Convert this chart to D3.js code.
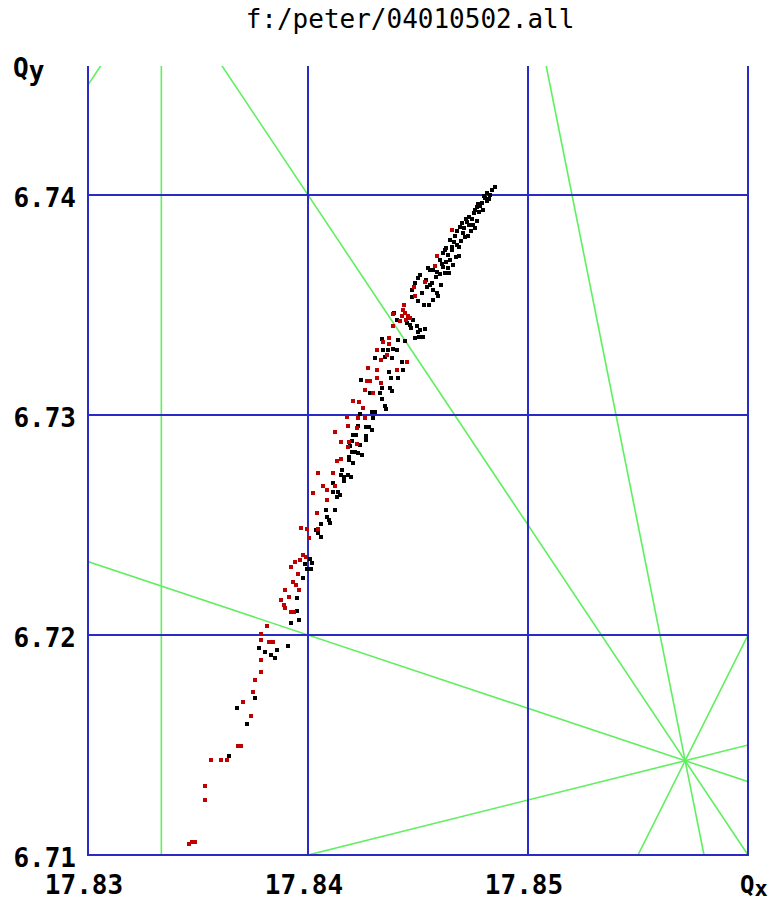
<!DOCTYPE html>
<html><head><meta charset="utf-8">
<script src="https://cdn.jsdelivr.net/npm/d3@7/dist/d3.min.js"></script>
<style>body{margin:0;background:#fff}svg{display:block}</style>
</head><body><svg id="c" width="777" height="900"></svg>
<script>
const title = "f:/peter/04010502.all";
const xDomain = [17.83, 17.86];
const yDomain = [6.71, 6.74586];
const xTicks = [17.83, 17.84, 17.85, 17.86];
const xTickLabels = ["17.83", "17.84", "17.85"];
const yTicks = [6.71, 6.72, 6.73, 6.74];
const yTickLabels = ["6.71", "6.72", "6.73", "6.74"];
// resonance lines m*Qx + n*Qy = p
const resonances = [[6,0,107],[3,2,67],[1,3,38],[1,-4,-9],[5,1,96],[2,-1,29],[3,-2,40]];

const redPoints = [
[17.83459,6.71050],[17.83473,6.71059],[17.83486,6.71059],[17.83532,6.71250],[17.83532,6.71314],
[17.83559,6.71432],[17.83605,6.71432],[17.83632,6.71432],[17.83682,6.71495],[17.83695,6.71495],
[17.83741,6.71632],[17.83705,6.71695],[17.83750,6.71741],[17.83759,6.71795],[17.83786,6.71832],
[17.83786,6.71886],[17.83823,6.71968],[17.83841,6.71968],[17.83786,6.71977],[17.83786,6.72005],
[17.83814,6.72041],[17.83895,6.72205],[17.83959,6.72205],[17.83914,6.72173],[17.83877,6.72159],
[17.83891,6.72136],[17.83895,6.72123],[17.83923,6.72105],[17.83936,6.72105],[17.83955,6.72277],
[17.83932,6.72241],[17.83945,6.72227],[17.83923,6.72309],[17.83941,6.72332],[17.83964,6.72341],
[17.83977,6.72364],[17.83991,6.72355],[17.84005,6.72441],[17.83968,6.72486],[17.83995,6.72482],
[17.84045,6.72482],[17.84041,6.72555],[17.84086,6.72614],[17.84023,6.72645],[17.84068,6.72677],
[17.84086,6.72659],[17.84123,6.72677],[17.84045,6.72736],[17.84114,6.72736],[17.84150,6.72800],
[17.84132,6.72791],[17.84150,6.72877],[17.84186,6.72877],[17.84223,6.72868],[17.84123,6.72923],
[17.84182,6.72950],[17.84182,6.72855],[17.84223,6.72941],[17.84177,6.72991],[17.84227,6.72986],
[17.84259,6.72986],[17.84205,6.73064],[17.84232,6.73059],[17.84250,6.73032],[17.84259,6.73114],
[17.84295,6.73100],[17.84268,6.73155],[17.84282,6.73155],[17.84314,6.73168],[17.84332,6.73145],
[17.84273,6.73214],[17.84314,6.73205],[17.84405,6.73205],[17.84450,6.73241],[17.84332,6.73250],
[17.84359,6.73273],[17.84314,6.73295],[17.84341,6.73332],[17.84368,6.73323],[17.84368,6.73350],
[17.84386,6.73405],[17.84386,6.73459],[17.84432,6.73477],[17.84441,6.73464],[17.84455,6.73450],
[17.84427,6.73450],[17.84445,6.73432],[17.84464,6.73441],[17.84436,6.73500],[17.84418,6.73427],
[17.84486,6.73541],[17.84482,6.73582],[17.84532,6.73605],[17.84577,6.73677],[17.84586,6.73723],
[17.84655,6.73841]
];

const blackPoints = [
[17.83641,6.71450],[17.83677,6.71668],[17.83723,6.71595],[17.83759,6.71714],[17.83777,6.71941],
[17.83805,6.71923],[17.83832,6.71909],[17.83859,6.71932],[17.83850,6.71895],[17.83909,6.71950],
[17.83923,6.72055],[17.83959,6.72068],[17.83950,6.72109],[17.83950,6.72168],[17.83977,6.72259],
[17.83995,6.72300],[17.84014,6.72300],[17.83986,6.72323],[17.84009,6.72345],[17.84018,6.72327],
[17.84036,6.72477],[17.84045,6.72464],[17.84059,6.72445],[17.84059,6.72505],[17.84086,6.72536],
[17.84095,6.72523],[17.84100,6.72509],[17.84082,6.72568],[17.84123,6.72568],[17.84114,6.72691],
[17.84114,6.72650],[17.84136,6.72650],[17.84145,6.72636],[17.84132,6.72627],[17.84150,6.72727],
[17.84164,6.72718],[17.84182,6.72727],[17.84195,6.72718],[17.84164,6.72700],[17.84155,6.72750],
[17.84186,6.72795],[17.84205,6.72782],[17.84200,6.72832],[17.84214,6.72832],[17.84227,6.72827],
[17.84200,6.72882],[17.84191,6.72859],[17.84236,6.72864],[17.84205,6.72909],[17.84218,6.72909],
[17.84227,6.72950],[17.84186,6.72809],[17.84245,6.72818],[17.84264,6.72905],[17.84264,6.72886],
[17.84264,6.72945],[17.84277,6.72945],[17.84291,6.72932],[17.84295,6.72986],[17.84236,6.73005],
[17.84291,6.73014],[17.84305,6.73014],[17.84350,6.73041],[17.84355,6.73027],[17.84336,6.73073],
[17.84282,6.73100],[17.84336,6.73123],[17.84327,6.73100],[17.84373,6.73123],[17.84382,6.73109],
[17.84241,6.73159],[17.84377,6.73168],[17.84409,6.73168],[17.84368,6.73195],[17.84432,6.73205],
[17.84427,6.73241],[17.84382,6.73259],[17.84350,6.73264],[17.84305,6.73259],[17.84341,6.73295],
[17.84364,6.73295],[17.84386,6.73300],[17.84405,6.73295],[17.84336,6.73345],[17.84464,6.73409],
[17.84495,6.73405],[17.84509,6.73386],[17.84532,6.73391],[17.84486,6.73350],[17.84505,6.73355],
[17.84527,6.73500],[17.84550,6.73500],[17.84477,6.73432],[17.84500,6.73377],[17.84523,6.73355],
[17.84473,6.73536],[17.84486,6.73600],[17.84568,6.73568],[17.84586,6.73555],[17.84591,6.73541],
[17.84555,6.73591],[17.84564,6.73600],[17.84509,6.73636],[17.84500,6.73623],[17.84623,6.73645],
[17.84641,6.73645],[17.84586,6.73650],[17.84600,6.73641],[17.84555,6.73659],[17.84568,6.73659],
[17.84609,6.73686],[17.84614,6.73673],[17.84600,6.73705],[17.84645,6.73705],[17.84673,6.73718],
[17.84686,6.73723],[17.84623,6.73750],[17.84614,6.73736],[17.84636,6.73727],[17.84645,6.73795],
[17.84664,6.73786],[17.84677,6.73773],[17.84686,6.73764],[17.84677,6.73836],[17.84705,6.73827],
[17.84714,6.73809],[17.84700,6.73873],[17.84691,6.73855],[17.84723,6.73877],[17.84732,6.73864],
[17.84750,6.73864],[17.84759,6.73850],[17.84732,6.73900],[17.84745,6.73891],[17.84768,6.73945],
[17.84759,6.73932],[17.84777,6.73923],[17.84791,6.73964],[17.84782,6.73950],[17.84805,6.73986],
[17.84814,6.73973],[17.84814,6.74009],[17.84827,6.74000],[17.84850,6.74036],[17.84391,6.73464],
[17.84405,6.73432],[17.84450,6.73418],[17.84468,6.73395],[17.84473,6.73568],[17.84545,6.73668],
[17.84536,6.73614],[17.84627,6.73759],[17.84655,6.73764],
[17.84836,6.74023],[17.84800,6.73995],[17.84773,6.73959],[17.84755,6.73918],[17.84718,6.73891],
[17.84709,6.73850],[17.84741,6.73836],[17.84668,6.73814],[17.84655,6.73750],[17.84695,6.73791],
[17.84627,6.73695],[17.84582,6.73627],[17.84541,6.73582],[17.84518,6.73555],[17.84500,6.73518],
[17.84568,6.73523],[17.84605,6.73591],[17.84636,6.73668],[17.84659,6.73682],[17.84727,6.73814],
[17.84768,6.73882],[17.84795,6.73932],[17.84823,6.73982],[17.84441,6.73336],[17.84409,6.73341]
];

const svg = d3.select("#c");
const x = d3.scaleLinear().domain(xDomain).range([88, 748]);
const y = d3.scaleLinear().domain(yDomain).range([855, 66]);

const BLUE = "#2a2ac4", GREEN = "#5ef05e", RED = "#c00000";
const FONT = "'DejaVu Sans Mono', monospace";

svg.append("defs").append("clipPath").attr("id","plot")
  .append("rect").attr("x", x(xDomain[0])).attr("y", y(yDomain[1]))
  .attr("width", x(xDomain[1]) - x(xDomain[0])).attr("height", y(yDomain[0]) - y(yDomain[1]));

// resonance lines
const gRes = svg.append("g").attr("clip-path","url(#plot)");
resonances.forEach(([m,n,p]) => {
  let x1,y1,x2,y2;
  if (n === 0) {
    const q = p/m;
    x1 = x2 = x(q); y1 = y(yDomain[0]); y2 = y(yDomain[1]);
  } else {
    const a = xDomain[0] - 0.01, b = xDomain[1] + 0.01;
    x1 = x(a); y1 = y((p - m*a)/n); x2 = x(b); y2 = y((p - m*b)/n);
  }
  gRes.append("line").attr("x1",x1).attr("y1",y1).attr("x2",x2).attr("y2",y2)
    .attr("stroke",GREEN).attr("stroke-width",1.6);
});

// grid / frame
const gGrid = svg.append("g");
xTicks.forEach(t => gGrid.append("line").attr("x1",x(t)).attr("x2",x(t))
  .attr("y1",y(yDomain[0])+1).attr("y2",y(yDomain[1])).attr("stroke",BLUE).attr("stroke-width",2));
yTicks.forEach(t => gGrid.append("line").attr("x1",x(xDomain[0])).attr("x2",x(xDomain[1]))
  .attr("y1",y(t)).attr("y2",y(t)).attr("stroke",BLUE).attr("stroke-width",2));

// points
const sz = 4;
svg.append("g").selectAll("rect").data(blackPoints).join("rect")
  .attr("x", d => Math.round(x(d[0]) - sz/2)).attr("y", d => Math.round(y(d[1]) - sz/2))
  .attr("width", sz).attr("height", sz).attr("fill", "#000");
svg.append("g").selectAll("rect").data(redPoints).join("rect")
  .attr("x", d => Math.round(x(d[0]) - sz/2)).attr("y", d => Math.round(y(d[1]) - sz/2))
  .attr("width", sz).attr("height", sz).attr("fill", RED);

// text
svg.append("text").attr("x", 410).attr("y", 28).attr("text-anchor","middle")
  .attr("font-family", FONT).attr("font-size", 26).attr("fill","#000").text(title);

yTicks.forEach((t,i) => svg.append("text").attr("x", 76).attr("y", y(t) + 12)
  .attr("text-anchor","end").attr("font-family",FONT).attr("font-weight","bold")
  .attr("font-size", 26).attr("fill","#000").text(yTickLabels[i]));
xTickLabels.forEach((lab,i) => svg.append("text").attr("x", x(xTicks[i]) - 4).attr("y", 894)
  .attr("text-anchor","middle").attr("font-family",FONT).attr("font-weight","bold")
  .attr("font-size", 26).attr("fill","#000").text(lab));

const qy = svg.append("text").attr("x", 13).attr("y", 77).attr("font-family",FONT)
  .attr("font-weight","bold").attr("font-size",26).attr("fill","#000");
qy.append("tspan").text("Q"); qy.append("tspan").attr("dy",3).text("y");
const qx = svg.append("text").attr("x", 740).attr("y", 893).attr("font-family",FONT)
  .attr("font-weight","bold").attr("font-size",24).attr("fill","#000");
qx.append("tspan").text("Q"); qx.append("tspan").attr("dy",3).attr("font-size",22).text("x");
</script></body></html>
